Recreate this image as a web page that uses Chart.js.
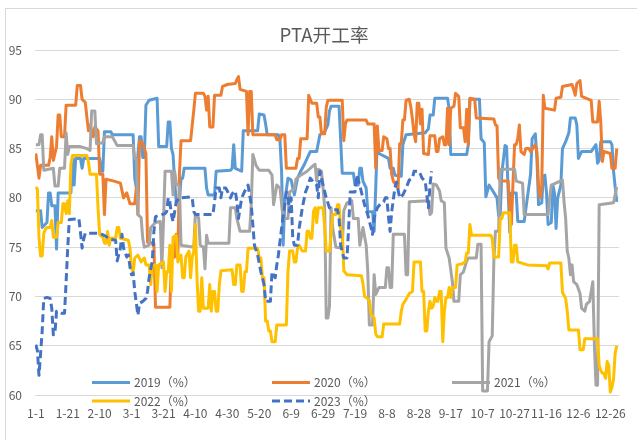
<!DOCTYPE html>
<html><head><meta charset="utf-8">
<script src="https://cdn.jsdelivr.net/npm/chart.js@4.4.0/dist/chart.umd.min.js"></script>
<style>html,body{margin:0;padding:0;background:#fff;}#wrap{width:637px;height:440px;}</style>
</head><body><div id="wrap"><canvas id="c" width="637" height="440"></canvas></div>
<script>
const chartTitle = 'PTA开工率';
const seriesNames = ['2019（%）','2020（%）','2021（%）','2022（%）','2023（%）'];
const seriesColors = ['#5B9BD5','#ED7D31','#A5A5A5','#FFC000','#4472C4'];
const tickDays = [0,20,40,60,80,100,120,140,160,180,200,220,240,260,280,300,320,340,360];
const tickLabels = ['1-1','1-21','2-10','3-1','3-21','4-10','4-30','5-20','6-9','6-29','7-19','8-8','8-28','9-17','10-7','10-27','11-16','12-6','12-26'];

// [day of year, value]
const s2019 = [[0,78.7],[3,78.7],[4,77],[7,77.5],[8,80.5],[9,80.5],[10,79.2],[12,79.2],[13,74.8],[14,80.5],[22,80.5],[23,84],[24,81.3],[25,84],[28,84],[29,83],[30,84],[40,84],[41,82.7],[42,82.7],[43,86.7],[47,86.7],[48,86.4],[61,86.4],[62,82],[63,81],[64,84.4],[65,86.2],[66,86.2],[67,84.1],[68,84.1],[69,89.4],[71,89.9],[76,90.1],[77,85.2],[82,85.2],[83,87.7],[84,87.7],[85,85],[86,84.4],[87,81.7],[88,79.6],[90,79.6],[91,82],[92,82],[93,83],[106,83],[107,81],[108,80.3],[112,80.3],[113,82.7],[122,82.8],[123,83],[124,85.4],[125,83],[129,82.7],[130,86.8],[139,86.8],[140,88.5],[143,88.4],[144,87.5],[145,86.4],[152,86.4],[153,85.8],[154,82.7],[155,75.2],[156,79.6],[158,82],[160,81.8],[162,80.3],[164,82],[166,82.7],[168,83.3],[170,84],[172,84.7],[176,84.7],[178,86.4],[181,86.7],[183,87.4],[184,88.8],[185,89.3],[190,89.3],[191,86],[192,82.5],[199,82.5],[200,81.3],[202,81.3],[203,83],[204,83],[205,81.7],[207,81],[208,78.6],[211,78.6],[212,76.6],[213,81],[214,86],[215,84.5],[221,84],[222,83],[224,83],[225,82.3],[229,82.2],[230,85.4],[232,86.4],[244,86.6],[246,87],[247,88.4],[249,88.4],[250,90.1],[258,90.1],[259,89],[260,84.4],[270,84.4],[271,85.4],[272,90],[278,90],[279,86],[281,85.6],[282,80.1],[284,81.3],[286,80.8],[289,80],[290,78.2],[291,78.3],[292,82.5],[294,85.3],[295,85.2],[296,80.5],[297,76.5],[298,80.5],[301,80.5],[302,77.6],[306,77.6],[308,80],[310,82.4],[311,86],[313,86.5],[314,84],[315,79.3],[317,79.5],[318,82.2],[319,82.3],[320,80.5],[321,77.3],[323,77.5],[324,81.3],[325,80.5],[326,76.9],[327,80],[329,81.3],[330,85],[332,85.7],[334,86.6],[335,88.1],[338,88.1],[339,87.4],[340,84],[342,84.7],[348,84.7],[351,85.4],[352,83.5],[353,83.8],[354,85.7],[360,85.7],[361,85.4],[362,82.7],[364,79.6]];

const s2020 = [[0,84.5],[2,82],[3,83.3],[8,83.3],[9,84.1],[10,86.2],[11,83.8],[12,84.5],[13,85.2],[14,88.4],[15,88.4],[16,86.2],[18,86.2],[19,89.4],[25,89.4],[26,91.4],[28,91.4],[29,90],[31,89.7],[32,88.2],[33,86.8],[34,87.4],[36,86.2],[37,87.2],[39,86.8],[40,82.4],[42,82.4],[43,78.3],[44,81.9],[49,81.7],[53,81.5],[55,80],[57,80.5],[59,79.4],[62,79.4],[63,81],[64,78.3],[65,85.8],[67,85.5],[69,84.5],[70,75.5],[74,75.4],[75,68.9],[84,68.9],[85,73.9],[87,74],[88,76.3],[89,73.9],[90,82.4],[91,85.8],[97,85.8],[99,88.9],[100,90.6],[105,90.6],[106,90.3],[107,88.9],[108,90.3],[109,87.2],[111,87.2],[112,90.4],[116,90.4],[117,91.3],[120,91.5],[125,91.6],[126,92],[127,92.3],[128,91],[132,90.8],[133,86.4],[134,90.8],[135,90.8],[136,86.4],[150,86.4],[151,85.9],[153,85.9],[154,86.4],[156,86.4],[157,83],[163,83],[164,84],[165,84],[166,86],[170,86],[171,90.4],[173,89.6],[176,89.6],[177,88.2],[178,88.2],[179,86.5],[181,86.5],[182,89.2],[183,89.9],[192,89.9],[193,85.8],[194,87.5],[195,87.9],[207,87.9],[208,87.5],[212,87.5],[213,83],[214,87.3],[215,84.8],[217,84.8],[218,86.2],[220,86],[221,85],[222,85],[223,82.4],[224,81.7],[226,81.2],[227,81],[228,85.5],[229,85.5],[230,87.9],[231,87.9],[232,89.9],[234,90],[235,89.2],[236,88],[237,86.5],[238,85.7],[239,89.6],[240,89.6],[241,87.5],[242,89],[243,84.5],[246,84.4],[247,86.3],[250,86.3],[251,84.7],[252,84.7],[253,86],[255,86.2],[256,85.4],[257,85.4],[258,89.1],[259,85.4],[260,89.1],[262,89.3],[263,90.6],[265,90.3],[266,87.1],[268,87.1],[269,85.7],[270,89],[271,85.4],[272,90.1],[275,90],[276,88.1],[287,88],[288,87.4],[289,87.3],[290,82],[291,81.7],[296,81.7],[297,78.6],[298,77.3],[299,81.5],[300,85.4],[301,85.4],[302,86],[303,87.4],[304,84.7],[306,84.4],[307,85],[309,85],[310,84.7],[313,85.4],[314,84.7],[315,81.3],[316,80],[317,81],[318,90.4],[319,89.1],[325,88.9],[326,90.1],[329,90.2],[330,91.3],[336,91.5],[337,91],[338,90.4],[339,91.6],[341,91.9],[342,90.3],[348,89.9],[349,87.7],[352,87.7],[353,89.8],[354,87.7],[355,83.7],[356,84.7],[360,84.5],[361,83],[363,83],[364,85]];

const s2021 = [[0,85.4],[2,85.4],[3,86.4],[4,86.4],[5,82.8],[11,83],[12,81.2],[14,81.2],[15,83],[18,83],[19,86.6],[20,84.4],[21,85.2],[28,85.2],[32,85],[34,84.8],[35,88.8],[37,88.8],[38,85.5],[42,85.6],[43,86.2],[48,86.2],[49,85.9],[51,85.3],[61,85.3],[62,84],[63,84],[64,78.3],[66,78],[67,75.9],[68,75],[71,75.2],[72,77],[75,77.5],[78,77.6],[79,72.9],[80,77.6],[81,82.7],[85,82.7],[86,80.3],[87,82.7],[88,81.4],[90,81.2],[91,75.2],[99,75],[100,78.4],[102,78],[103,75.2],[105,75],[106,72.8],[107,76.2],[108,75.4],[121,75.4],[122,79],[125,79],[126,77.9],[128,76.6],[134,76.6],[135,79.3],[136,84.4],[138,83.3],[140,82.8],[146,82.8],[148,82.3],[149,79.3],[151,81.3],[153,81],[155,77.9],[158,77.9],[159,80.6],[162,80.9],[163,81.9],[166,82.3],[170,82.7],[174,83.3],[175,83.4],[176,81.7],[177,82.9],[179,82.7],[180,81],[181,79],[182,67.8],[183,67.8],[184,69],[185,79],[186,77],[188,75],[192,74.9],[193,78.7],[195,79.5],[198,79.7],[199,77.9],[202,77.9],[203,75.2],[205,77],[207,75.2],[208,72.6],[209,67.1],[211,67.1],[212,72.2],[213,70.2],[215,70.9],[219,70.9],[220,72.9],[221,72.9],[222,70.9],[223,70.9],[224,76.3],[231,76.3],[232,72.2],[233,72.2],[234,79.6],[246,79.7],[247,78.3],[248,78.5],[249,81.4],[251,81.3],[253,80.7],[254,79.7],[256,79.5],[257,74.9],[259,73.9],[261,71.5],[262,69.5],[265,69.5],[266,72.2],[268,72.5],[270,73.6],[271,73.9],[276,73.9],[277,75.3],[279,75.3],[280,60.4],[283,60.4],[284,65.4],[286,66],[287,73.6],[288,76.6],[290,76.6],[291,82.9],[300,82.9],[301,81.7],[305,81.5],[306,78.3],[321,78.3],[322,80],[323,81.3],[330,81.8],[331,79.6],[332,77.9],[333,74.6],[334,73.9],[335,72.2],[336,73.2],[337,71.5],[339,71.2],[341,70.3],[342,68.8],[344,68.5],[345,69.2],[347,69.5],[348,70.5],[349,71.5],[350,65.1],[351,61],[352,61],[353,79.3],[362,79.5],[364,81.1]];

const s2022 = [[0,81.1],[1,80.9],[2,76],[3,74.1],[4,74.1],[5,76.4],[6,76.8],[7,77],[9,77],[10,77.7],[11,76],[13,76],[14,77.5],[16,77.5],[17,79.4],[18,79.4],[19,78.4],[20,79.7],[21,78.4],[22,83.4],[23,84.3],[32,84.3],[33,83.6],[34,82.4],[38,82.4],[39,79],[40,76.3],[42,76],[43,75.4],[44,75.4],[45,76.6],[46,75.2],[47,75.9],[50,75.9],[51,77],[52,77],[53,75.9],[58,75.7],[59,74.9],[60,72.8],[61,72.5],[62,73.9],[64,74.2],[66,73.5],[68,73.9],[69,73.2],[71,73.2],[72,71.2],[73,73.2],[75,73.2],[76,70.5],[77,73.2],[80,73.5],[81,70.5],[82,72.5],[83,72.5],[84,75.2],[85,70.5],[86,76],[88,76.2],[89,73.5],[91,74.2],[92,71.9],[93,71.9],[94,74],[96,74.6],[97,71.9],[98,74],[99,74.6],[100,77.3],[101,71.9],[102,68.5],[103,68.5],[104,71.9],[105,68.8],[108,68.8],[109,71.2],[110,68.5],[111,70.5],[112,70.5],[113,68.5],[114,68.5],[115,71.2],[116,72.6],[123,72.7],[124,71.2],[125,71.2],[126,73.2],[128,73.2],[129,70.5],[130,70.5],[131,72.5],[132,72.5],[133,74.9],[139,74.9],[140,73.9],[141,73.9],[142,71.9],[143,71.9],[144,67.5],[145,67.5],[146,66.5],[147,66.5],[148,65.4],[150,65.4],[151,67.1],[157,67.1],[158,72.5],[159,74.6],[161,74.6],[162,73.5],[163,73.5],[164,74.9],[165,75.2],[167,74.6],[169,74.6],[170,76.6],[171,76.6],[172,75.9],[173,75.9],[174,78.6],[175,79],[176,77.5],[177,79],[180,79],[181,77],[182,74.6],[184,74.6],[185,76.3],[186,78.3],[188,78.3],[189,79.3],[190,79.3],[191,76.9],[192,76.6],[193,72.6],[195,72.2],[204,72.1],[205,71.3],[206,70],[207,69.9],[209,69.6],[210,68.2],[212,67.8],[213,66.2],[214,65.9],[217,65.9],[218,67.2],[228,67.2],[229,68.5],[230,69.2],[232,69.7],[234,70.3],[236,70.5],[237,73.5],[241,73.5],[242,70.5],[243,70.5],[244,66.5],[245,66.5],[246,68.5],[247,69.5],[248,68.8],[249,69],[250,69.9],[251,69.5],[252,69.5],[253,70.5],[254,70.5],[255,65.4],[256,68.5],[257,69.9],[258,69.9],[259,70.9],[260,69.9],[261,70.9],[263,70.9],[264,73.2],[267,73.3],[269,73.5],[270,74.4],[271,74.4],[272,77.3],[273,76.2],[285,76.2],[286,75.9],[287,74],[290,74],[291,77.8],[292,77.9],[293,78.5],[297,78.5],[298,73.5],[299,73.5],[300,75.2],[301,75.2],[302,73.5],[304,73.4],[308,73.2],[320,73.1],[321,72.8],[322,73.4],[329,73.4],[330,70.4],[332,69.8],[333,68.5],[334,66.6],[340,66.6],[341,64.6],[343,64.6],[344,65.7],[352,65.7],[353,63],[354,62.5],[355,62.2],[356,62.2],[357,61.7],[358,63.4],[359,63],[360,60.3],[361,60.8],[362,61.6],[363,64.2],[364,65]];

const s2023 = [[0,65.1],[1,64.5],[2,62],[3,64.2],[4,66.5],[5,69.8],[7,69.9],[9,69.8],[10,68.8],[11,66.1],[12,66.3],[13,68.5],[16,68.3],[18,68.3],[19,71.5],[20,74.9],[21,77.8],[27,77.9],[28,76.5],[29,74.9],[30,75.8],[31,76.4],[40,76.4],[44,76.1],[46,75.8],[50,75.7],[51,73.6],[53,74.9],[54,76.3],[55,74.9],[57,74],[58,74.2],[59,73],[60,72.2],[61,72.4],[62,70.5],[64,68.1],[65,69.3],[67,69.5],[69,69.8],[70,70.5],[71,71.9],[73,73.6],[74,76.6],[75,78.1],[81,78.4],[82,78.6],[83,80],[84,79.6],[85,78.3],[86,77.6],[87,78.6],[88,79.6],[90,80],[97,80.1],[98,80],[99,78.6],[100,78.3],[111,78.3],[112,79.6],[113,81],[115,81],[116,80],[117,81],[119,81],[120,80.7],[122,80],[123,80.4],[125,80.7],[126,79.6],[127,77.9],[129,80],[131,80.7],[133,81.3],[135,79.3],[137,75.2],[139,74.2],[141,72.5],[143,71.2],[144,69.5],[147,69.5],[148,72.5],[150,71.9],[151,73.2],[152,74.2],[154,76.9],[156,79.3],[157,80.6],[158,80],[159,78.6],[160,80],[161,75.9],[162,75.2],[164,75.2],[165,76.9],[167,79],[169,80.6],[170,81],[172,82],[174,81.6],[176,81.3],[177,80],[178,82.7],[180,81.3],[182,80],[184,79],[186,78.8],[189,78.8],[190,78],[191,75.2],[193,73.9],[195,73.9],[196,76.9],[197,80.6],[200,80.6],[201,82.3],[203,81.3],[204,80.6],[206,79.3],[208,78.3],[210,77],[211,76.3],[212,78],[214,79],[216,79.4],[218,79.6],[219,80],[220,80],[221,78],[222,76.6],[223,78.6],[225,81],[226,81.6],[228,80],[230,80.3],[232,81],[234,81.8],[236,82],[237,82.7],[240,82.7],[241,82.4],[242,82],[244,81.7],[245,80.3],[246,79],[247,81.3],[248,82.7]];

const allSeries = [s2019, s2020, s2021, s2022, s2023];
const FONT = "'Noto Sans CJK SC', 'Noto Sans', sans-serif";
const TEXT = '#595959';

const frame = {
  id: 'frame',
  beforeDraw(chart) {
    const ctx = chart.ctx;
    ctx.save();
    ctx.strokeStyle = '#D9D9D9';
    ctx.lineWidth = 1;
    ctx.strokeRect(5.5, 8.5, 700, 500);
    ctx.restore();
  }
};

const titleAndLegend = {
  id: 'titleAndLegend',
  afterDraw(chart) {
    const ctx = chart.ctx, a = chart.chartArea;
    ctx.save();
    ctx.fillStyle = TEXT;
    ctx.textAlign = 'center';
    ctx.textBaseline = 'middle';
    ctx.font = '18.67px ' + FONT;
    ctx.fillText(chartTitle, (a.left + a.right) / 2 - 3, a.top - 15);

    ctx.font = '12px ' + FONT;
    ctx.textAlign = 'left';
    chart.data.datasets.forEach((ds, i) => {
      const col = i % 3, row = Math.floor(i / 3);
      const x0 = a.left + 57 + col * 180;
      const y = a.bottom - 12.5 + row * 18.5;
      ctx.strokeStyle = ds.borderColor;
      ctx.lineWidth = 3;
      ctx.setLineDash(ds.borderDash || []);
      ctx.beginPath();
      ctx.moveTo(x0, y);
      ctx.lineTo(x0 + 38, y);
      ctx.stroke();
      ctx.setLineDash([]);
      ctx.fillStyle = TEXT;
      ctx.fillText(ds.label, x0 + 42, y);
    });
    ctx.restore();
  }
};

new Chart(document.getElementById('c'), {
  type: 'line',
  data: {
    datasets: allSeries.map((s, i) => ({
      label: seriesNames[i],
      data: s.map(p => ({ x: p[0], y: p[1] })),
      borderColor: seriesColors[i],
      backgroundColor: seriesColors[i],
      borderWidth: 3,
      borderDash: i === 4 ? [8, 4] : [],
      borderJoinStyle: 'round',
      borderCapStyle: 'butt',
      pointRadius: 0,
      fill: false,
      tension: 0,
      order: 5 - i
    }))
  },
  options: {
    responsive: false,
    animation: false,
    devicePixelRatio: 1,
    layout: { padding: { left: 0, right: 17, top: 50, bottom: 0 } },
    plugins: {
      legend: { display: false },
      tooltip: { enabled: false },
      title: { display: false }
    },
    scales: {
      x: {
        type: 'linear', min: -0.5, max: 365.5,
        grid: { display: false, drawTicks: false },
        border: { display: false },
        afterBuildTicks: (scale) => { scale.ticks = tickDays.map(v => ({ value: v })); },
        afterFit: (scale) => { scale.height = 45; },
        ticks: {
          autoSkip: false, maxRotation: 0, minRotation: 0, padding: 11,
          color: TEXT, font: { family: FONT, size: 12 },
          callback: (v) => { const k = tickDays.indexOf(v); return k >= 0 ? tickLabels[k] : ''; }
        }
      },
      y: {
        min: 60, max: 95,
        grid: { color: '#D9D9D9', lineWidth: 1, drawTicks: false },
        border: { display: false },
        afterFit: (scale) => { scale.width = 35; },
        ticks: { stepSize: 5, padding: 13, color: TEXT, font: { family: FONT, size: 12 } }
      }
    }
  },
  plugins: [frame, titleAndLegend]
});
</script></body></html>
